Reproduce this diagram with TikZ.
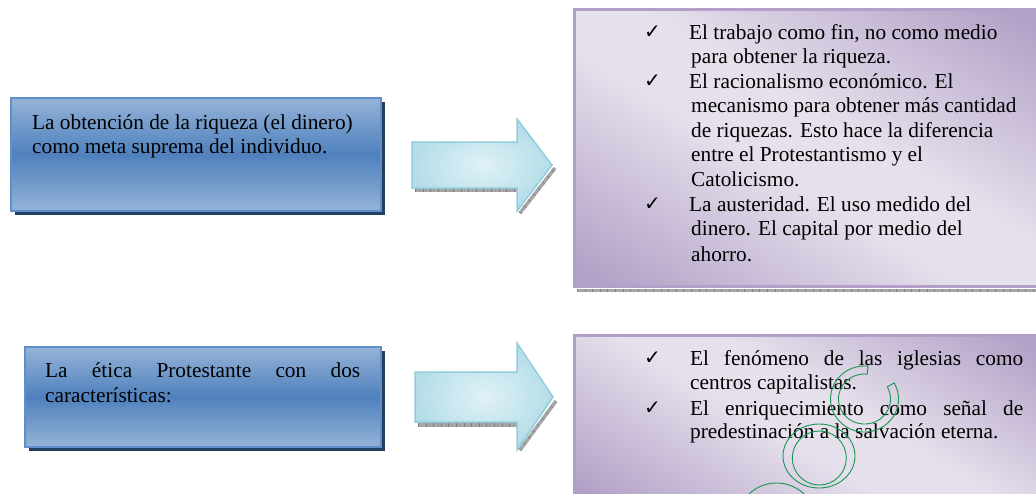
\documentclass[tikz,border=0pt]{standalone}
\usepackage{fontspec}
\setmainfont{Liberation Serif}
\newfontfamily\symfont{DejaVu Sans}
\usetikzlibrary{calc,shadows}
\definecolor{bluelt}{RGB}{149,179,215}
\definecolor{bluedk}{RGB}{79,129,189}
\definecolor{blueedge}{RGB}{96,142,202}
\definecolor{shadowblue}{RGB}{36,64,97}
\definecolor{pdark}{RGB}{178,161,199}
\definecolor{plight}{RGB}{230,224,236}
\definecolor{pedge}{RGB}{178,160,200}
\definecolor{arrin}{RGB}{224,241,246}
\definecolor{arrout}{RGB}{180,221,232}
\definecolor{arredge}{RGB}{146,205,221}
\definecolor{hatchgray}{RGB}{165,165,165}
\definecolor{wmgreen}{RGB}{24,150,80}
\pgfdeclarehorizontalshading{purpband}{100bp}{color(0bp)=(pdark); color(18bp)=(pdark); color(45bp)=(plight); color(55bp)=(plight); color(82bp)=(pdark); color(100bp)=(pdark)}
\tikzset{
  txt/.style={anchor=base west, inner sep=0pt, font=\fontsize{21.3}{24.6}\selectfont},
  chk/.style={anchor=base west, inner sep=0pt, font=\symfont\fontsize{20}{24}\selectfont},
  bluebox/.style={draw=blueedge, line width=2.5pt, top color=bluelt, bottom color=bluelt, middle color=bluedk,
    drop shadow={shadow xshift=4pt, shadow yshift=-4pt, fill=shadowblue, opacity=1}},
  purpbox/.style={draw=pedge, line width=3pt, shading=purpband, shading angle=59},
  blockarrow/.style={draw=arredge, line width=1.5pt, inner color=arrin, outer color=arrout, line join=miter},
  hatchline/.style={draw=hatchgray, line width=3.5pt},
  hatchtick/.style={draw=black!50, line width=3.5pt, dash pattern=on 0.6pt off 7pt},
  wm/.style={draw=wmgreen, line width=0.9pt}
}
\begin{document}
\begin{tikzpicture}[x=1pt,y=-1pt]
\useasboundingbox (0,0) rectangle (1036,493);
\fill[white] (0,0) rectangle (1036,493);

% left blue boxes
\path[bluebox] (11,98) rectangle (381,211);
\path[bluebox] (25,347) rectangle (381,447);

% right purple boxes
\draw[hatchline] (577,290.5) -- (1036,290.5);
\draw[hatchtick] (577,290.5) -- (1036,290.5);
\path[purpbox] (574.5,9.5) rectangle (1040,286.5);
\path[purpbox] (574.5,335.5) rectangle (1040,500);

% block arrows (with hatched shadows)
\draw[hatchline] (415,190) -- (518,190);
\draw[hatchline] (520,213) -- (555,168);
\draw[hatchtick] (415,190) -- (518,190);
\draw[hatchtick] (520,213) -- (555,168);
\path[blockarrow] (412,142) -- (517,142) -- (517,119) -- (552,165) -- (517,211) -- (517,188) -- (412,188) -- cycle;

\draw[hatchline] (418,425) -- (518,425);
\draw[hatchline] (520,450) -- (556,401);
\draw[hatchtick] (418,425) -- (518,425);
\draw[hatchtick] (520,450) -- (556,401);
\path[blockarrow] (415,372) -- (517,372) -- (517,343) -- (553,397) -- (517,450) -- (517,422) -- (415,422) -- cycle;

% texts of the left boxes
\node[txt] (l1a) at (32,129) {La obtención de la riqueza (el dinero)};
\node[txt] (l1b) at (32,153) {como meta suprema del individuo.};
\node[txt] (l2a) at (45,377) {\makebox[315pt][s]{La ética Protestante con dos}};
\node[txt] (l2b) at (45,402) {características:};

% texts of the upper right box
\node[chk] (c1) at (644,38) {✓};
\node[chk] (c2) at (644,87) {✓};
\node[chk] (c3) at (644,210) {✓};
\node[txt] (r1a) at (689,39) {El trabajo como fin, no como medio};
\node[txt] (r1b) at (691,63) {para obtener la riqueza.};
\node[txt] (r1c) at (689,88) {El racionalismo económico. El};
\node[txt] (r1d) at (691,112.5) {mecanismo para obtener más cantidad};
\node[txt] (r1e) at (691,137) {de riquezas. Esto hace la diferencia};
\node[txt] (r1f) at (691,161.5) {entre el Protestantismo y el};
\node[txt] (r1g) at (691,186) {Catolicismo.};
\node[txt] (r1h) at (689,211) {La austeridad. El uso medido del};
\node[txt] (r1i) at (691,235) {dinero. El capital por medio del};
\node[txt] (r1j) at (691,261) {ahorro.};

% texts of the lower right box
\node[chk] (c4) at (644,364) {✓};
\node[chk] (c5) at (644,414) {✓};
\node[txt] (r2a) at (690,365) {\makebox[333pt][s]{El fenómeno de las iglesias como}};
\node[txt] (r2b) at (690,389) {centros capitalistas.};
\node[txt] (r2c) at (690,415) {\makebox[333pt][s]{El enriquecimiento como señal de}};
\node[txt] (r2d) at (690,438) {predestinación a la salvación eterna.};

% green marks over the lower right box
\draw[wm] plot[domain=-29:276, samples=80, smooth] ({864.5+34*cos(\x)},{399+33*sin(\x)})
  -- plot[domain=276:-29, samples=80, smooth] ({864.5+26*cos(\x)},{399+25*sin(\x)}) -- cycle;
\draw[wm] (819,456) ellipse[x radius=36, y radius=32];
\draw[wm] (819.3,458) circle[radius=27];
\draw[wm] (776.5,523) circle[radius=40];
\end{tikzpicture}
\end{document}
